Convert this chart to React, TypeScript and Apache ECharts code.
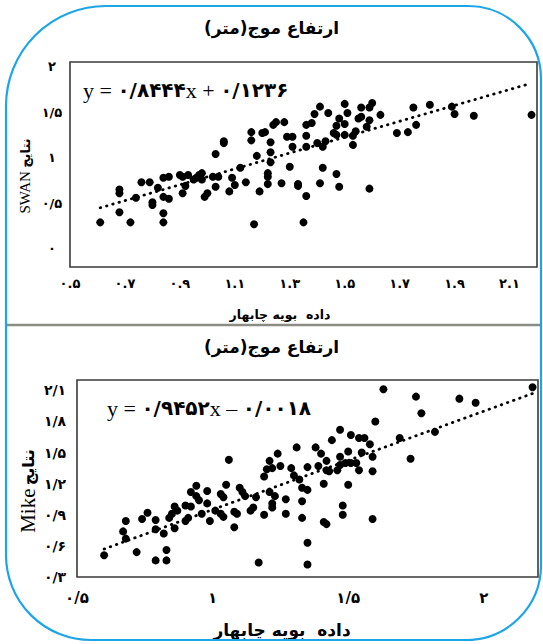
import React, { useEffect, useRef } from 'react';
import * as echarts from 'echarts';

const FA_DIGITS = '۰۱۲۳۴۵۶۷۸۹';
const toFa = (s: string) => s.replace(/[0-9]/g, (d) => FA_DIGITS[+d]);

const titleText = '\u200Fارتفاع موج(متر)\u200F';
const xNameText = 'داده  بویه چابهار';
const yNameWord = 'نتایج';
const topModel = 'SWAN';
const bottomModel = 'Mike';

const topSlope = 0.8444;
const topIntercept = 0.1236;
const botSlope = 0.9452;
const botIntercept = -0.0018;

// SWAN (top) scatter
const swanX = [0.61, 0.68, 0.68, 0.68, 0.72, 0.74, 0.76, 0.79, 0.80, 0.80, 0.82, 0.84, 0.84, 0.84, 0.86, 0.84, 0.86, 0.90, 0.91, 0.91,
  0.92, 0.93, 0.95, 0.96, 0.97, 0.98, 0.98, 0.99, 1.00, 1.02, 1.03, 1.04, 1.03, 1.06, 1.06, 1.08, 1.09, 1.10, 1.12, 1.14,
  1.16, 1.16, 1.17, 1.18, 1.19, 1.20, 1.21, 1.22, 1.22, 1.23, 1.23, 1.23, 1.22, 1.24, 1.25, 1.27, 1.28, 1.29, 1.30, 1.31,
  1.33, 1.33, 1.31, 1.35, 1.36, 1.36, 1.36, 1.36, 1.38, 1.39, 1.41, 1.40, 1.42, 1.43, 1.44, 1.46, 1.47, 1.47, 1.48, 1.50,
  1.51, 1.50, 1.50, 1.53, 1.53, 1.54, 1.55, 1.56, 1.56, 1.58, 1.59, 1.59, 1.60, 1.63, 1.42, 1.41, 1.47, 1.48, 1.59, 1.69,
  1.73, 1.75, 1.76, 1.81, 1.89, 1.90, 1.97, 2.18];
const swanY = [0.29, 0.40, 0.61, 0.65, 0.29, 0.56, 0.73, 0.73, 0.51, 0.48, 0.67, 0.39, 0.29, 0.57, 0.55, 0.78, 0.79, 0.81, 0.61, 0.79,
  0.69, 0.81, 0.76, 0.78, 0.81, 0.83, 0.76, 0.57, 0.61, 0.79, 0.68, 0.79, 1.04, 1.18, 1.16, 0.63, 0.78, 0.70, 0.89, 0.73,
  1.28, 1.19, 0.27, 1.02, 0.63, 1.27, 1.28, 0.83, 0.71, 1.17, 1.06, 0.95, 0.79, 1.36, 1.39, 0.72, 1.39, 1.23, 0.90, 1.23,
  0.71, 0.69, 1.12, 0.29, 0.58, 1.36, 1.24, 1.12, 1.38, 1.48, 1.56, 1.16, 1.12, 1.18, 1.49, 1.27, 1.35, 1.25, 1.43, 1.59,
  1.49, 1.37, 1.25, 1.14, 1.24, 1.29, 1.43, 1.45, 1.55, 1.34, 1.41, 1.55, 1.60, 1.47, 0.89, 0.72, 0.82, 0.68, 0.66, 1.27,
  1.28, 1.55, 1.36, 1.58, 1.56, 1.48, 1.46, 1.47];
const swanTrendX = [0.61, 2.16];
const swanTrendY = [0.45, 1.80];

// Mike (bottom) scatter
const mikeX = [0.60, 0.67, 0.68, 0.68, 0.72, 0.74, 0.76, 0.79, 0.79, 0.79, 0.82, 0.83, 0.83, 0.84, 0.85, 0.86, 0.86, 0.87, 0.90, 0.90,
  0.91, 0.92, 0.92, 0.94, 0.94, 0.95, 0.96, 0.98, 0.98, 0.99, 1.01, 1.03, 1.03, 1.04, 1.04, 1.05, 1.06, 1.08, 1.08, 1.09,
  1.10, 1.11, 1.12, 1.14, 1.15, 1.16, 1.17, 1.19, 1.19, 1.20, 1.21, 1.21, 1.22, 1.22, 1.22, 1.23, 1.24, 1.25, 1.27, 1.27,
  1.29, 1.30, 1.31, 1.32, 1.33, 1.33, 1.33, 1.35, 1.35, 1.35, 1.35, 1.38, 1.39, 1.40, 1.41, 1.41, 1.42, 1.42, 1.42, 1.43,
  1.44, 1.46, 1.47, 1.47, 1.47, 1.48, 1.48, 1.49, 1.50, 1.51, 1.50, 1.51, 1.53, 1.54, 1.54, 1.56, 1.55, 1.58, 1.59, 1.59,
  1.59, 1.60, 1.63, 1.69, 1.73, 1.75, 1.77, 1.82, 1.91, 1.97, 2.18];
const mikeY = [0.51, 0.74, 0.84, 0.67, 0.54, 0.86, 0.92, 0.76, 0.85, 0.46, 0.72, 0.56, 0.46, 0.87, 0.91, 0.77, 0.98, 0.94, 0.99, 0.84,
  0.87, 1.12, 0.98, 1.18, 1.08, 1.04, 0.91, 1.13, 1.01, 0.84, 0.94, 1.10, 0.91, 1.07, 0.88, 1.19, 1.43, 0.93, 0.78, 0.91,
  1.16, 1.12, 1.08, 0.94, 0.97, 1.07, 0.44, 0.90, 1.27, 1.34, 1.42, 1.12, 1.01, 0.97, 1.35, 1.08, 1.49, 1.37, 1.05, 0.91,
  1.35, 1.28, 1.55, 1.24, 1.16, 1.03, 0.87, 0.63, 0.42, 1.36, 1.14, 1.55, 1.37, 1.49, 1.20, 0.83, 0.81, 1.42, 1.33, 1.32,
  1.62, 1.33, 1.46, 1.38, 1.72, 0.99, 0.90, 1.40, 1.51, 1.67, 1.19, 1.40, 1.40, 1.33, 1.64, 1.64, 1.50, 1.58, 1.46, 1.32,
  0.86, 1.80, 2.11, 1.64, 1.44, 2.04, 1.88, 1.70, 2.02, 1.98, 2.13];
const mikeTrendX = [0.60, 2.18];
const mikeTrendY = [0.57, 2.07];

// tick labels
const topXTicks = [0.5, 0.7, 0.9, 1.1, 1.3, 1.5, 1.7, 1.9, 2.1];
const topYTicks = [0, 0.5, 1, 1.5, 2];
const botXTicks = [0.5, 1, 1.5, 2];
const botYTicks = [0.3, 0.6, 0.9, 1.2, 1.5, 1.8, 2.1];

const pairs = (xs: number[], ys: number[]) => xs.map((x, i) => [x, ys[i]]);

const tickFormatter = (ticks: number[], sep: string) => (v: number) => {
  const hit = ticks.find((t) => Math.abs(t - v) < 1e-6);
  if (hit === undefined) return '';
  return toFa(String(Number(hit.toFixed(2))).replace('.', sep));
};

const eqRich = (slope: number, intercept: number) => {
  const sign = intercept < 0 ? '–' : '+';
  const fa = (n: number) => toFa(String(Math.abs(n)).replace('.', '/'));
  return `{s|y = }{p|${fa(slope)}}{s|x ${sign} }{p|${fa(intercept)}}`;
};

const FA_FONT = 'DejaVu Sans';
const SERIF = 'Liberation Serif';

export default function App() {
  const ref = useRef<HTMLDivElement>(null);
  useEffect(() => {
    if (!ref.current) return;
    const chart = echarts.init(ref.current, undefined, { renderer: 'svg' });
    const labelBase = { fontFamily: FA_FONT, fontWeight: 'bold' as const, color: '#000' };
    const axisCommon = {
      type: 'value' as const,
      axisLine: { show: false },
      axisTick: { show: false },
      splitLine: { show: false },
    };
    const eqRichStyle = {
      s: { fontFamily: SERIF, fontSize: 22, color: '#111' },
      p: { fontFamily: FA_FONT, fontWeight: 'bold', fontSize: 20, color: '#000' },
    };
    const dotStyle = { color: '#000', opacity: 1 };
    chart.setOption({
      animation: false,
      backgroundColor: '#fff',
      grid: [
        { left: 70, top: 62, width: 467, height: 205, show: true, borderColor: '#3a3a3a', borderWidth: 1.6, backgroundColor: 'transparent' },
        { left: 77, top: 380, width: 461, height: 197, show: true, borderColor: '#3a3a3a', borderWidth: 1.6, backgroundColor: 'transparent' },
      ],
      xAxis: [
        { ...axisCommon, gridIndex: 0, min: 0.5, max: 2.2, interval: 0.1,
          axisLabel: { ...labelBase, fontSize: 13, margin: 10, formatter: tickFormatter(topXTicks, '.') } },
        { ...axisCommon, gridIndex: 1, min: 0.5, max: 2.2, interval: 0.1,
          axisLabel: { ...labelBase, fontSize: 15, margin: 13, formatter: tickFormatter(botXTicks, '/') } },
      ],
      yAxis: [
        { ...axisCommon, gridIndex: 0, min: -0.2, max: 2.05, interval: 0.05,
          axisLabel: { ...labelBase, fontSize: 13, margin: 18, align: 'center', formatter: tickFormatter(topYTicks, '/') } },
        { ...axisCommon, gridIndex: 1, min: 0.3, max: 2.2, interval: 0.1,
          axisLabel: { ...labelBase, fontSize: 14, margin: 22, align: 'center', formatter: tickFormatter(botYTicks, '/') } },
      ],
      series: [
        { type: 'scatter', xAxisIndex: 0, yAxisIndex: 0, data: pairs(swanX, swanY), symbolSize: 8,
          itemStyle: dotStyle, silent: true },
        { type: 'line', xAxisIndex: 0, yAxisIndex: 0, data: pairs(swanTrendX, swanTrendY), showSymbol: false, symbol: 'none',
          lineStyle: { color: '#000', width: 2.8, type: [0.5, 6], cap: 'round' }, silent: true },
        { type: 'scatter', xAxisIndex: 1, yAxisIndex: 1, data: pairs(mikeX, mikeY), symbolSize: 8,
          itemStyle: dotStyle, silent: true },
        { type: 'line', xAxisIndex: 1, yAxisIndex: 1, data: pairs(mikeTrendX, mikeTrendY), showSymbol: false, symbol: 'none',
          lineStyle: { color: '#000', width: 2.8, type: [0.5, 6], cap: 'round' }, silent: true },
      ],
      graphic: [
        { type: 'rect', shape: { x: 6, y: 6, width: 535, height: 634, r: [100, 73, 75, 85] },
          style: { fill: 'none', stroke: '#1ea5e6', lineWidth: 2.2 }, silent: true, z: 10 },
        { type: 'line', shape: { x1: 7, y1: 325, x2: 541, y2: 325 },
          style: { stroke: '#8c8c84', lineWidth: 2.5 }, silent: true },
        { type: 'text', x: 271.5, y: 28, style: { text: titleText, font: `bold 17px "${FA_FONT}"`, fill: '#000', align: 'center', verticalAlign: 'middle' } },
        { type: 'text', x: 271.5, y: 347, style: { text: titleText, font: `bold 17px "${FA_FONT}"`, fill: '#000', align: 'center', verticalAlign: 'middle' } },
        { type: 'text', x: 280, y: 314, style: { text: xNameText, font: `bold 12.5px "${FA_FONT}"`, fill: '#000', align: 'center', verticalAlign: 'middle' } },
        { type: 'text', x: 282, y: 630, style: { text: xNameText, font: `bold 17px "${FA_FONT}"`, fill: '#000', align: 'center', verticalAlign: 'middle' } },
        { type: 'text', x: 83, y: 90, style: { text: eqRich(topSlope, topIntercept), rich: eqRichStyle, align: 'left', verticalAlign: 'middle' } },
        { type: 'text', x: 107, y: 408, style: { text: eqRich(botSlope, botIntercept), rich: eqRichStyle, align: 'left', verticalAlign: 'middle' } },
        { type: 'text', x: 25, y: 176, rotation: Math.PI / 2,
          style: { text: `{s|${topModel}} {p|${yNameWord}}`, align: 'center', verticalAlign: 'middle',
            rich: { s: { fontFamily: SERIF, fontSize: 15, color: '#111' }, p: { fontFamily: FA_FONT, fontWeight: 'bold', fontSize: 13, color: '#000' } } } },
        { type: 'text', x: 28, y: 491, rotation: Math.PI / 2,
          style: { text: `{s|${bottomModel}} {p|${yNameWord}}`, align: 'center', verticalAlign: 'middle',
            rich: { s: { fontFamily: SERIF, fontSize: 21, color: '#111' }, p: { fontFamily: FA_FONT, fontWeight: 'bold', fontSize: 16, color: '#000' } } } },
      ],
    });
    return () => chart.dispose();
  }, []);
  return <div ref={ref} style={{ position: 'absolute', left: 0, top: 0, width: 543, height: 644 }} />;
}
